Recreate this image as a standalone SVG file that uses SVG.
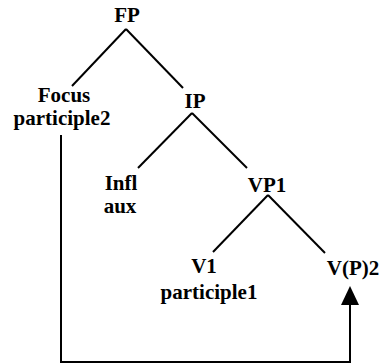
<svg xmlns="http://www.w3.org/2000/svg" width="381" height="364" viewBox="0 0 381 364">
<style>
text{font-family:"Liberation Serif","Times New Roman",serif;font-size:21px;font-weight:bold;fill:#000;text-anchor:middle}
.e{stroke:#000;stroke-width:2;fill:none}
</style>
<rect width="381" height="364" fill="#fff"/>
<g id="connectors">
<line class="e" x1="126" y1="29" x2="72" y2="86"/>
<line class="e" x1="126" y1="29" x2="183" y2="88"/>
<line class="e" x1="192" y1="113" x2="138" y2="168"/>
<line class="e" x1="192" y1="113" x2="247" y2="168"/>
<line class="e" x1="268" y1="195" x2="213" y2="252"/>
<line class="e" x1="268" y1="195" x2="325" y2="253"/>
<polyline class="e" points="61,135 61,362 350,362 350,303"/>
<polygon points="350,286 341,305 359,305" fill="#000"/>
</g>
<g id="FP"><text x="127" y="22">FP</text></g>
<g id="Focus"><text x="64" y="102">Focus</text><text x="62" y="125">participle2</text></g>
<g id="IP"><text x="195" y="108">IP</text></g>
<g id="Infl"><text x="121" y="190">Infl</text><text x="120" y="213">aux</text></g>
<g id="VP1"><text x="267" y="192">VP1</text></g>
<g id="V1"><text x="204" y="273">V1</text><text x="209" y="299">participle1</text></g>
<g id="VP2"><text x="353" y="275">V(P)2</text></g>
</svg>
